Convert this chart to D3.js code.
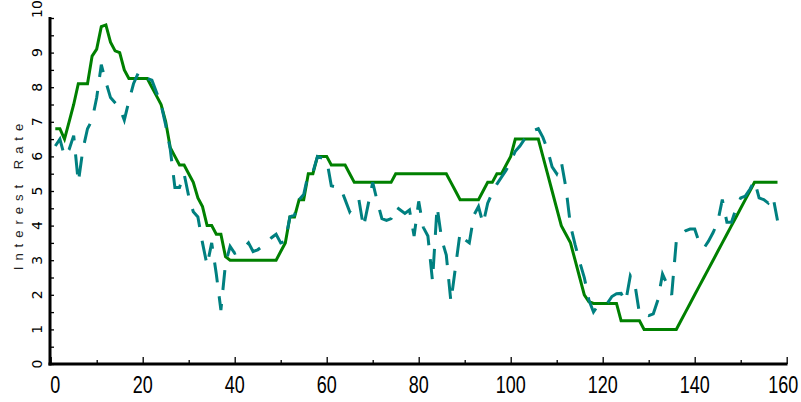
<!DOCTYPE html>
<html>
<head>
<meta charset="utf-8">
<script src="https://cdn.jsdelivr.net/npm/d3@7"></script>
<style>
  html, body { margin: 0; padding: 0; background: #fff; }
  svg { display: block; }
</style>
</head>
<body>
<svg id="chart" width="801" height="402"></svg>
<script>
// Period index for both series
const periods = d3.range(1, 159);

// Policy rate (solid green step series)
const policyRate = [
  6.8, 6.8, 6.5, 7.0, 7.5, 8.1, 8.1, 8.1, 8.9, 9.1,
  9.75, 9.8, 9.3, 9.05, 9.0, 8.5, 8.25, 8.25, 8.25, 8.25,
  8.25, 8.0, 7.75, 7.5, 7.0, 6.25, 6.0, 5.75, 5.75, 5.5,
  5.25, 4.8, 4.55, 4.0, 4.0, 3.75, 3.75, 3.1, 3.0, 3.0,
  3.0, 3.0, 3.0, 3.0, 3.0, 3.0, 3.0, 3.0, 3.0, 3.25,
  3.5, 4.25, 4.25, 4.75, 4.75, 5.5, 5.5, 6.0, 6.0, 6.0,
  5.75, 5.75, 5.75, 5.75, 5.5, 5.25, 5.25, 5.25, 5.25, 5.25,
  5.25, 5.25, 5.25, 5.25, 5.5, 5.5, 5.5, 5.5, 5.5, 5.5,
  5.5, 5.5, 5.5, 5.5, 5.5, 5.5, 5.25, 5.0, 4.75, 4.75,
  4.75, 4.75, 4.75, 5.0, 5.25, 5.25, 5.5, 5.5, 5.75, 6.0,
  6.5, 6.5, 6.5, 6.5, 6.5, 6.5, 6.0, 5.5, 5.0, 4.5,
  4.0, 3.75, 3.5, 3.0, 2.5, 2.0, 1.8, 1.75, 1.75, 1.75,
  1.75, 1.75, 1.75, 1.25, 1.25, 1.25, 1.25, 1.25, 1.0, 1.0,
  1.0, 1.0, 1.0, 1.0, 1.0, 1.0, 1.25, 1.5, 1.75, 2.0,
  2.25, 2.5, 2.75, 3.0, 3.25, 3.5, 3.75, 4.0, 4.25, 4.5,
  4.75, 5.0, 5.25, 5.25, 5.25, 5.25, 5.25, 5.25
];

// Model-implied rate (dashed teal series)
const modelRate = [
  6.3, 6.5, 6.0, 6.2, 6.6, 5.25, 6.2, 6.8, 7.05, 7.7,
  8.65, 8.15, 7.7, 7.55, 7.4, 7.05, 7.6, 8.1, 8.4, 8.2,
  8.25, 8.2, 7.85, 7.5, 6.9, 6.2, 5.1, 5.1, 5.5, 4.85,
  4.4, 4.25, 3.5, 2.85, 3.5, 2.6, 1.56, 2.9, 3.4, 3.2,
  3.25, 3.35, 3.5, 3.25, 3.3, 3.4, 3.5, 3.65, 3.75, 3.5,
  3.55, 4.25, 4.3, 4.75, 4.9, 5.5, 5.55, 6.0, 5.95, 5.9,
  5.15, 5.12, 5.1, 4.75, 4.4, 4.6, 4.75, 3.95, 4.6, 5.25,
  4.7, 4.2, 4.15, 4.2, 4.55, 4.45, 4.35, 4.45, 3.7, 4.7,
  3.95, 3.7, 2.4, 4.55, 3.6, 3.15, 1.8, 2.8, 3.8, 3.6,
  3.5, 4.3, 4.55, 4.05, 4.65, 4.95, 5.2, 5.4, 5.6, 5.85,
  6.15, 6.3, 6.5, 6.65, 6.75, 6.8, 6.55, 6.2, 5.7, 5.5,
  5.85, 5.1, 4.0, 3.45, 2.95, 2.5, 1.85, 1.5, 1.7, 1.72,
  1.75, 1.95, 2.03, 2.04, 1.8, 2.55, 2.3, 1.45, 1.45, 1.4,
  1.45, 1.85, 2.6, 2.3, 2.0, 3.55, 3.75, 3.85, 3.9, 3.9,
  3.5, 3.35, 3.55, 3.8, 4.1, 4.75, 4.1, 4.1, 4.5, 4.8,
  4.85, 5.05, 5.3, 4.8, 4.75, 4.65, 4.85, 4.15
];

// Axis ticks and labels
const xMajorTicks = [0, 20, 40, 60, 80, 100, 120, 140, 160];
const xMinorTicks = [10, 30, 50, 70, 90, 110, 130, 150];
const yLabelTicks = [0, 1, 2, 3, 4, 5, 6, 7, 8, 9, 10];
const yAllTicks = d3.range(0, 10.01, 0.5);
const yTitle = "Interest Rate";

const svg = d3.select("#chart");

const x = d3.scaleLinear().domain([0, 160]).range([50.7, 786.7]);
const y = d3.scaleLinear().domain([0, 10]).range([364, 18]);

// Axes (ticks point into the plot)
const xAxisMajor = d3.axisBottom(x).tickValues(xMajorTicks).tickSizeInner(-7).tickSizeOuter(0).tickFormat("");
const xAxisMinor = d3.axisBottom(x).tickValues(xMinorTicks).tickSizeInner(-4).tickSizeOuter(0).tickFormat("");
const yAxis = d3.axisLeft(y).tickValues(yAllTicks).tickSizeInner(-4).tickSizeOuter(0).tickFormat("");

function styleAxis(g) {
  g.select(".domain").remove();
  g.selectAll(".tick line").attr("stroke", "#000").attr("stroke-width", 1.3);
}

svg.append("g").attr("transform", "translate(0,364)").call(xAxisMajor).call(styleAxis);
svg.append("g").attr("transform", "translate(0,364)").call(xAxisMinor).call(styleAxis);
svg.append("g").attr("transform", "translate(50,0)").call(yAxis).call(styleAxis);

// Axis lines
svg.append("line").attr("x1", 50).attr("x2", 50).attr("y1", 17).attr("y2", 365.5)
  .attr("stroke", "#000").attr("stroke-width", 3);
svg.append("line").attr("x1", 48.5).attr("x2", 787.5).attr("y1", 364).attr("y2", 364)
  .attr("stroke", "#000").attr("stroke-width", 3);

// X tick labels
svg.append("g").selectAll("text").data(xMajorTicks).join("text")
  .attr("transform", d => {
    let px = x(d);
    if (d === 0) px += 4.5;
    if (d === 160) px -= 3.5;
    return `translate(${px},393) scale(1,1.3)`;
  })
  .attr("text-anchor", "middle")
  .attr("font-family", "'Liberation Sans Narrow', 'Liberation Sans', sans-serif")
  .attr("font-size", 18)
  .attr("fill", "#000")
  .text(d => d);

// Y tick labels (rotated)
svg.append("g").selectAll("text").data(yLabelTicks).join("text")
  .attr("transform", d => `translate(41.5,${y(d)}) rotate(-90)`)
  .attr("text-anchor", d => d === 10 ? "start" : "middle")
  .attr("font-family", "'DejaVu Sans', sans-serif")
  .attr("font-size", 14)
  .attr("fill", "#000")
  .text(d => d);

// Y axis title
svg.append("text")
  .attr("transform", "translate(22.5,194) rotate(-90)")
  .attr("text-anchor", "middle")
  .attr("font-family", "'Liberation Sans', sans-serif")
  .attr("font-size", 13)
  .attr("letter-spacing", 6)
  .attr("fill", "#222")
  .text(yTitle);

// Series lines
const line = d3.line().x((d, i) => x(periods[i])).y(d => y(d));

svg.append("path")
  .datum(policyRate)
  .attr("d", line)
  .attr("fill", "none")
  .attr("stroke", "#008000")
  .attr("stroke-width", 3)
  .attr("stroke-linejoin", "miter");

svg.append("path")
  .datum(modelRate)
  .attr("d", line)
  .attr("fill", "none")
  .attr("stroke", "#008080")
  .attr("stroke-width", 3)
  .attr("stroke-dasharray", "20,14");
</script>
</body>
</html>
